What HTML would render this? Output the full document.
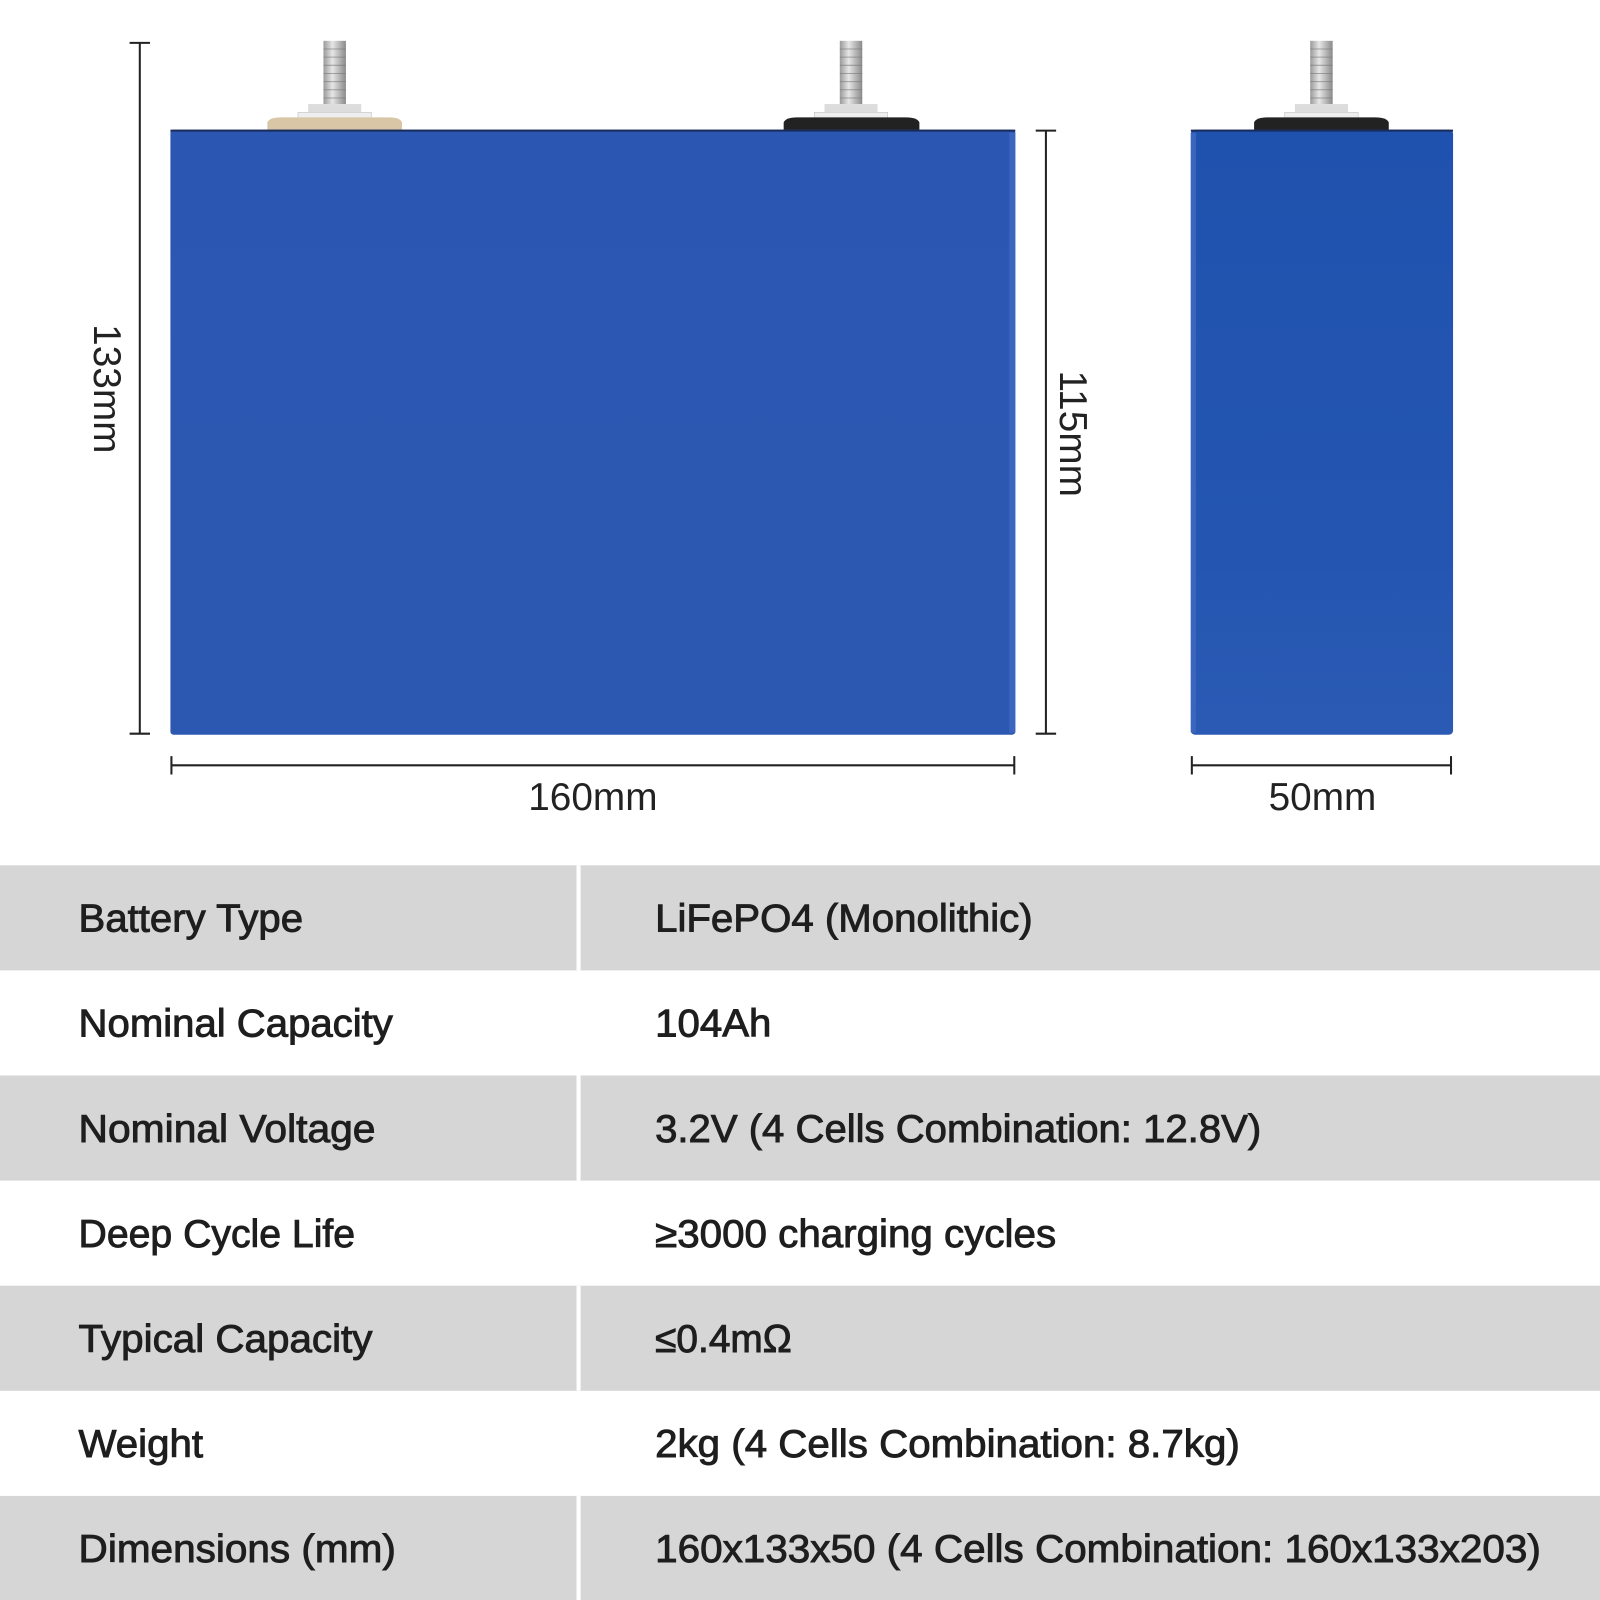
<!DOCTYPE html>
<html><head><style>html,body{margin:0;padding:0;background:#fff}svg{display:block}</style></head>
<body>
<svg width="1600" height="1600" viewBox="0 0 1568 1568" xmlns="http://www.w3.org/2000/svg" font-family="'Liberation Sans', sans-serif">
<defs>
<linearGradient id="stud" x1="0" x2="1"><stop offset="0" stop-color="#9a9a9a"/><stop offset="0.4" stop-color="#e6e6e6"/><stop offset="1" stop-color="#8a8a8a"/></linearGradient>
<linearGradient id="bf" x1="0" y1="0" x2="0" y2="1"><stop offset="0" stop-color="#2b57b3"/><stop offset="1" stop-color="#2d58b2"/></linearGradient>
<linearGradient id="bs" x1="0" y1="0" x2="0" y2="1"><stop offset="0" stop-color="#1f52ae"/><stop offset="0.7" stop-color="#2456b1"/><stop offset="1" stop-color="#2a5ab4"/></linearGradient>
<g id="term">
<rect x="-11" y="0" width="22" height="62" fill="url(#stud)"/>
<g stroke="#777" stroke-width="1" opacity="0.6"><line x1="-11" y1="8" x2="11" y2="8"/><line x1="-11" y1="16" x2="11" y2="16"/><line x1="-11" y1="24" x2="11" y2="24"/><line x1="-11" y1="32" x2="11" y2="32"/><line x1="-11" y1="40" x2="11" y2="40"/><line x1="-11" y1="48" x2="11" y2="48"/><line x1="-11" y1="56" x2="11" y2="56"/></g>
<rect x="-26" y="62" width="52" height="8" fill="#dcdcdc"/>
<rect x="-36" y="70" width="72" height="8" fill="#eeeeee" stroke="#bbb" stroke-width="0.5"/>
</g>
</defs>
<rect width="1568" height="1568" fill="#fff"/>
<g transform="translate(328,40)"><use href="#term"/></g>
<path d="M262 128 L262 120 Q264 115 275 115 L382 115 Q392 115 394 120 L394 128 Z" fill="#d9c6a6"/>
<g transform="translate(834,40)"><use href="#term"/></g>
<path d="M768 128 L768 120 Q770 115 781 115 L888 115 Q899 115 901 120 L901 128 Z" fill="#222"/>
<g transform="translate(1295,40)"><use href="#term"/></g>
<path d="M1229 128 L1229 120 Q1231 115 1242 115 L1348 115 Q1359 115 1361 120 L1361 128 Z" fill="#222"/>
<rect x="167" y="127" width="828" height="593" rx="3" fill="url(#bf)"/>
<line x1="167" y1="128" x2="995" y2="128" stroke="#1a2c5a" stroke-width="2"/>
<rect x="989" y="130" width="6" height="588" fill="#3a66c0"/>
<rect x="1167" y="127" width="257" height="593" rx="4" fill="url(#bs)"/>
<line x1="1167" y1="128" x2="1424" y2="128" stroke="#1a2c5a" stroke-width="2"/>
<rect x="1167" y="130" width="5" height="588" fill="#3a66c0"/>
<g stroke="#222" stroke-width="2">
<line x1="137" y1="42" x2="137" y2="719"/><line x1="127" y1="42" x2="147" y2="42"/><line x1="127" y1="719" x2="147" y2="719"/>
<line x1="1025" y1="128" x2="1025" y2="719"/><line x1="1015" y1="128" x2="1035" y2="128"/><line x1="1015" y1="719" x2="1035" y2="719"/>
<line x1="168" y1="750" x2="994" y2="750"/><line x1="168" y1="741" x2="168" y2="759"/><line x1="994" y1="741" x2="994" y2="759"/>
<line x1="1168" y1="750" x2="1422" y2="750"/><line x1="1168" y1="741" x2="1168" y2="759"/><line x1="1422" y1="741" x2="1422" y2="759"/>
</g>
<g fill="#222" font-size="38">
<text transform="translate(92,381) rotate(90)" text-anchor="middle">133mm</text>
<text transform="translate(1039,425) rotate(90)" text-anchor="middle">115mm</text>
<text x="581" y="794" text-anchor="middle">160mm</text>
<text x="1296" y="794" text-anchor="middle">50mm</text>
</g>
<g fill="#d6d6d6">
<rect x="0" y="848" width="1568" height="103"/>
<rect x="0" y="1054" width="1568" height="103"/>
<rect x="0" y="1260" width="1568" height="103"/>
<rect x="0" y="1466" width="1568" height="102"/>
</g>
<g fill="#fff"><rect x="565" y="848" width="4" height="103"/><rect x="565" y="1054" width="4" height="103"/><rect x="565" y="1260" width="4" height="103"/><rect x="565" y="1466" width="4" height="102"/></g>
<g fill="#1e1e1e" font-size="38" stroke="#1e1e1e" stroke-width="0.9" lengthAdjust="spacingAndGlyphs">
<text x="77" y="913" textLength="220" lengthAdjust="spacingAndGlyphs">Battery Type</text>
<text x="642" y="913" textLength="370" lengthAdjust="spacingAndGlyphs">LiFePO4 (Monolithic)</text>
<text x="77" y="1016" textLength="308" lengthAdjust="spacingAndGlyphs">Nominal Capacity</text>
<text x="642" y="1016" textLength="114" lengthAdjust="spacingAndGlyphs">104Ah</text>
<text x="77" y="1119" textLength="291" lengthAdjust="spacingAndGlyphs">Nominal Voltage</text>
<text x="642" y="1119" textLength="594" lengthAdjust="spacingAndGlyphs">3.2V (4 Cells Combination: 12.8V)</text>
<text x="77" y="1222" textLength="271" lengthAdjust="spacingAndGlyphs">Deep Cycle Life</text>
<text x="642" y="1222" textLength="393" lengthAdjust="spacingAndGlyphs">≥3000 charging cycles</text>
<text x="77" y="1325" textLength="288" lengthAdjust="spacingAndGlyphs">Typical Capacity</text>
<text x="642" y="1325" textLength="134" lengthAdjust="spacingAndGlyphs">≤0.4mΩ</text>
<text x="77" y="1428" textLength="122" lengthAdjust="spacingAndGlyphs">Weight</text>
<text x="642" y="1428" textLength="573" lengthAdjust="spacingAndGlyphs">2kg (4 Cells Combination: 8.7kg)</text>
<text x="77" y="1531" textLength="311" lengthAdjust="spacingAndGlyphs">Dimensions (mm)</text>
<text x="642" y="1531" textLength="868" lengthAdjust="spacingAndGlyphs">160x133x50 (4 Cells Combination: 160x133x203)</text>
</g>
</svg>
</body></html>
